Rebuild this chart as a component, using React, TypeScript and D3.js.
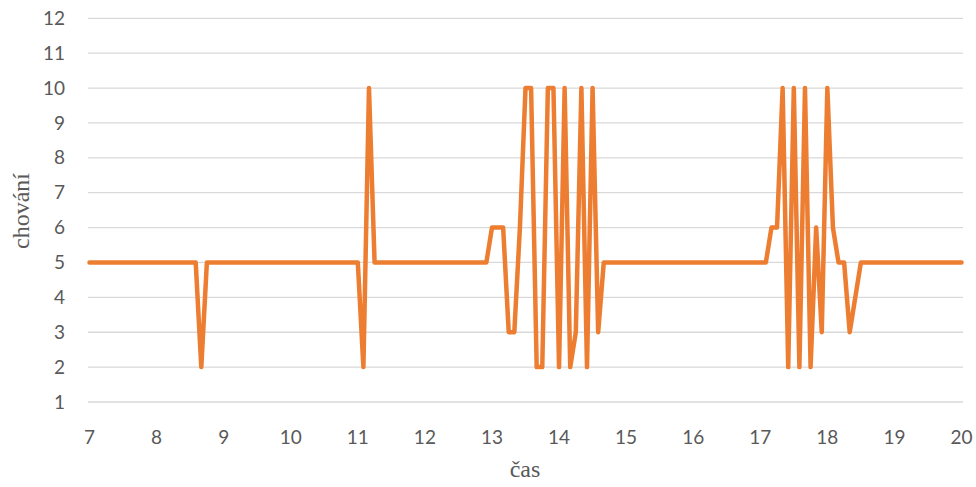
import React from "react";
import * as d3 from "d3";

// time in hours (5-minute steps) and behaviour score
const times: number[] = [
  7, 8 + 35 / 60, 8 + 40 / 60, 8 + 45 / 60,
  11, 11 + 5 / 60, 11 + 10 / 60, 11 + 15 / 60,
  12 + 55 / 60, 13, 13 + 10 / 60, 13 + 15 / 60, 13 + 20 / 60, 13 + 25 / 60,
  13 + 30 / 60, 13 + 35 / 60, 13 + 40 / 60, 13 + 45 / 60, 13 + 50 / 60, 13 + 55 / 60,
  14, 14 + 5 / 60, 14 + 10 / 60, 14 + 15 / 60, 14 + 20 / 60, 14 + 25 / 60,
  14 + 30 / 60, 14 + 35 / 60, 14 + 40 / 60,
  17 + 5 / 60, 17 + 10 / 60, 17 + 15 / 60, 17 + 20 / 60, 17 + 25 / 60, 17 + 30 / 60,
  17 + 35 / 60, 17 + 40 / 60, 17 + 45 / 60, 17 + 50 / 60, 17 + 55 / 60, 18,
  18 + 5 / 60, 18 + 10 / 60, 18 + 15 / 60, 18 + 20 / 60, 18 + 25 / 60, 18 + 30 / 60,
  20,
];
const behaviour: number[] = [
  5, 5, 2, 5,
  5, 2, 10, 5,
  5, 6, 6, 3, 3, 6,
  10, 10, 2, 2, 10, 10,
  2, 10, 2, 3, 10, 2,
  10, 3, 5,
  5, 6, 6, 10, 2, 10,
  2, 10, 2, 6, 3, 10,
  6, 5, 5, 3, 4, 5,
  5,
];
const xTicks: number[] = [7, 8, 9, 10, 11, 12, 13, 14, 15, 16, 17, 18, 19, 20];
const yTicks: number[] = [1, 2, 3, 4, 5, 6, 7, 8, 9, 10, 11, 12];
const xTitle = "čas";
const yTitle = "chování";

export default function App() {
  const W = 976;
  const H = 487;
  const x = d3.scaleLinear().domain([7, 20]).range([89.5, 961.5]);
  const y = d3.scaleLinear().domain([1, 12]).range([402, 18.3]);
  const pts = times.map((t, i) => [t, behaviour[i]] as [number, number]);
  const line = d3
    .line<[number, number]>()
    .x((d) => x(d[0]))
    .y((d) => y(d[1]));
  const tickFont = "Lato, 'Open Sans', sans-serif";
  const titleFont = "'Liberation Serif', 'DejaVu Serif', serif";
  return (
    <svg
      width={W}
      height={H}
      style={{ position: "absolute", left: 0, top: 0, background: "#fff" }}
    >
      {yTicks.map((v) => (
        <line
          key={"g" + v}
          x1={88}
          x2={963}
          y1={y(v)}
          y2={y(v)}
          stroke="#d9d9d9"
          strokeWidth={1.3}
        />
      ))}
      {yTicks.map((v) => (
        <text
          key={"yl" + v}
          x={65}
          y={y(v)}
          dy="0.35em"
          textAnchor="end"
          fontFamily={tickFont}
          fontSize={19}
          fill="#595959"
        >
          {v}
        </text>
      ))}
      {xTicks.map((v) => (
        <text
          key={"xl" + v}
          x={x(v)}
          y={444}
          textAnchor="middle"
          fontFamily={tickFont}
          fontSize={19}
          fill="#595959"
        >
          {v}
        </text>
      ))}
      <path
        d={line(pts) || ""}
        fill="none"
        stroke="#ED7D31"
        strokeWidth={4.5}
        strokeLinejoin="round"
        strokeLinecap="round"
      />
      <text
        x={525}
        y={477}
        textAnchor="middle"
        fontFamily={titleFont}
        fontSize={24}
        fill="#595959"
      >
        {xTitle}
      </text>
      <text
        transform={`translate(29,211) rotate(-90)`}
        textAnchor="middle"
        fontFamily={titleFont}
        fontSize={24}
        fill="#595959"
      >
        {yTitle}
      </text>
    </svg>
  );
}
